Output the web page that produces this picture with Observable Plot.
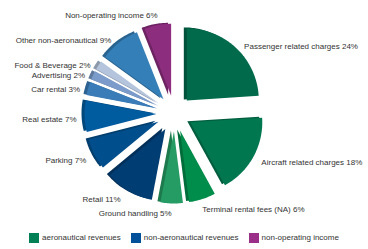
<!DOCTYPE html>
<html><head><meta charset="utf-8">
<script src="https://cdn.jsdelivr.net/npm/d3@7"></script>
<script src="https://cdn.jsdelivr.net/npm/@observablehq/plot@0.6"></script>
<style>
body{margin:0;background:#fff;font-family:"Liberation Sans",Arial,sans-serif;}
#legend{display:flex;justify-content:center;align-items:center;height:23px;font-size:8px;color:#333;}
#legend .item{display:flex;align-items:center;margin:0 5px;}
#legend .sw{width:10px;height:10px;margin-right:3px;}
</style></head><body><div id="chart"></div><div id="legend"></div>
<script>
const categories = ["Passenger related charges","Aircraft related charges","Terminal rental fees (NA)","Ground handling","Retail","Parking","Real estate","Car rental","Advertising","Food & Beverage","Other non-aeronautical","Non-operating income"];
const shares = [24,18,6,5,11,7,7,3,2,2,9,6];
const sliceColors = ["#006a4b","#00774f","#008c4a","#259c63","#003d73","#004f8c","#005b9f","#3a7cb7","#7b9ccb","#b3c4dc","#357fb8","#8c2d7e"];
const groupNames = ["aeronautical revenues","non-aeronautical revenues","non-operating income"];
const groupColors = ["#008054","#00509a","#9b3088"];

const W = 368, H = 226, unit = 72, cx = 174, cy = 113;
const explode = 0.25;

const arcs = d3.pie().sort(null).value(d => d)(shares);
const polys = [];
const labels = [];
arcs.forEach((a, i) => {
  const mid = (a.startAngle + a.endAngle) / 2;
  const sx = Math.sin(mid), sy = -Math.cos(mid);
  const ox = explode * sx, oy = explode * sy;
  polys.push({k: i, x: ox, y: oy, c: sliceColors[i]});
  const n = Math.max(4, Math.ceil((a.endAngle - a.startAngle) / 0.02));
  for (let j = 0; j <= n; j++) {
    const t = a.startAngle + (a.endAngle - a.startAngle) * j / n;
    polys.push({k: i, x: ox + Math.sin(t), y: oy - Math.cos(t), c: sliceColors[i]});
  }
  // label anchored at the arc point of the slice's mid angle
  const px = ox + sx, py = oy + sy;
  const vertical = Math.abs(sx) < 0.35;
  labels.push({
    x: px, y: py,
    dx: vertical ? 0 : 8 * Math.sign(sx),
    dy: vertical ? 10 * Math.sign(sy) : 3 + 6 * sy,
    text: `${categories[i]} ${shares[i]}%`, right: sx > 0
  });
});

const textOpts = {fontSize: 8, fill: "#333", lineAnchor: "middle"};
const chart = Plot.plot({
  width: W, height: H, margin: 0,
  x: {domain: [-cx / unit, (W - cx) / unit], axis: null},
  y: {domain: [-cy / unit, (H - cy) / unit], reverse: true, axis: null},
  marks: [
    Plot.line(polys, {x: "x", y: "y", z: "k", fill: d => d3.color(d.c).darker(0.7).formatHex(), stroke: "none", dx: -3, dy: -1}),
    Plot.line(polys, {x: "x", y: "y", z: "k", fill: "c", stroke: "none"}),
    ...labels.map(l => Plot.text([l], {x: "x", y: "y", text: "text", textAnchor: l.right ? "start" : "end", dx: l.dx, dy: l.dy, ...textOpts}))
  ],
  style: {fontFamily: "'Liberation Sans', Arial, sans-serif", background: "#fff"}
});
document.getElementById("chart").append(chart);

const lg = document.getElementById("legend");
groupNames.forEach((g, i) => {
  const it = document.createElement("div"); it.className = "item";
  const sw = document.createElement("div"); sw.className = "sw"; sw.style.background = groupColors[i];
  const tx = document.createElement("span"); tx.textContent = g;
  it.append(sw, tx); lg.append(it);
});
</script></body></html>
